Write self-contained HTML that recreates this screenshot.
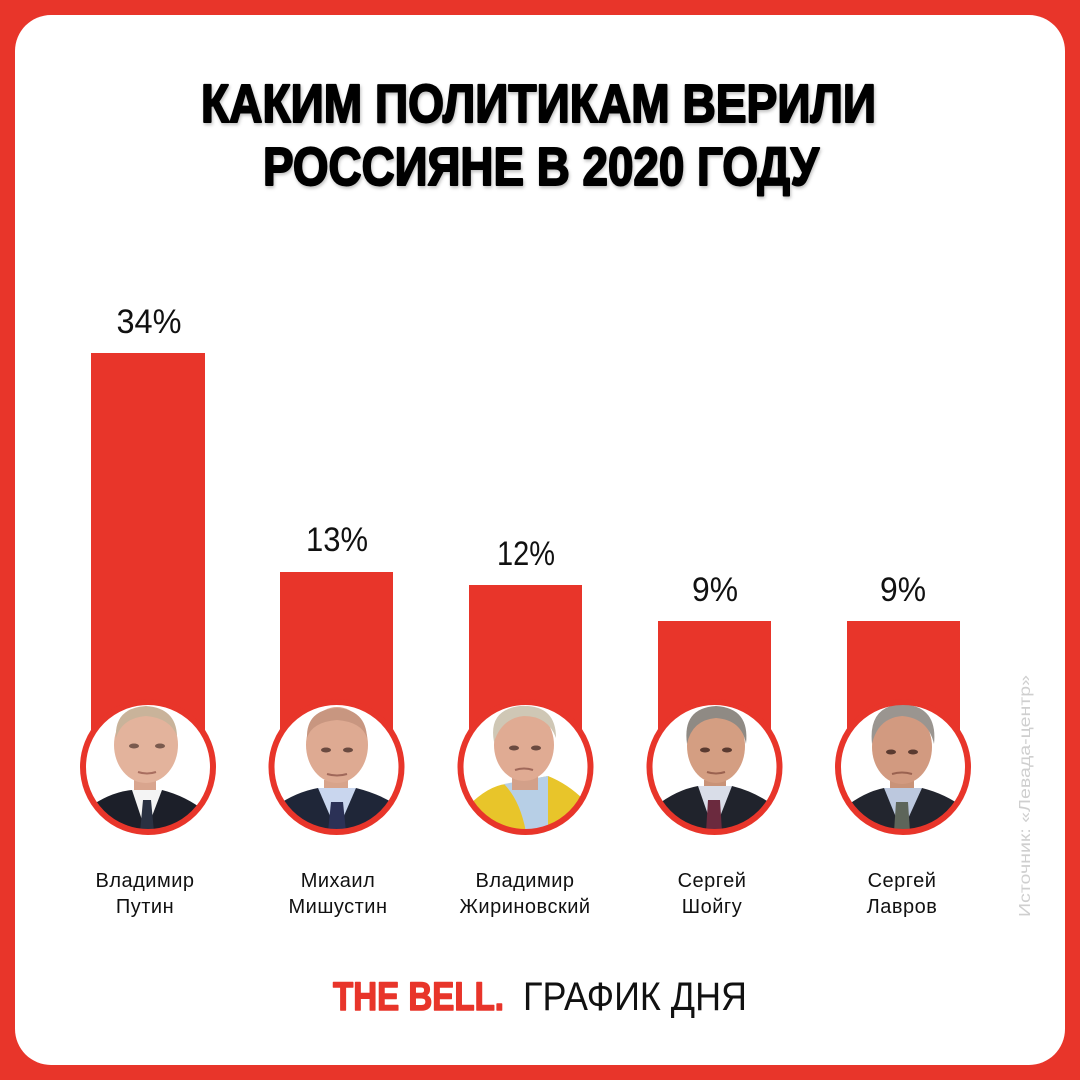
<!DOCTYPE html>
<html><head><meta charset="utf-8">
<style>
html,body{margin:0;padding:0;background:#E8352A;}
svg{display:block;}
</style></head>
<body>
<svg width="1080" height="1080" viewBox="0 0 1080 1080" xmlns="http://www.w3.org/2000/svg">
<defs>
<clipPath id="c1"><circle cx="148" cy="767" r="64"/></clipPath>
<clipPath id="c2"><circle cx="336.5" cy="767" r="64"/></clipPath>
<clipPath id="c3"><circle cx="525.5" cy="767" r="64"/></clipPath>
<clipPath id="c4"><circle cx="714.5" cy="767" r="64"/></clipPath>
<clipPath id="c5"><circle cx="903" cy="767" r="64"/></clipPath>
<filter id="sh" x="-5%" y="-20%" width="110%" height="140%"><feDropShadow dx="1" dy="2" stdDeviation="1.5" flood-color="#000" flood-opacity="0.25"/></filter>
</defs>
<rect x="0" y="0" width="1080" height="1080" fill="#E8352A"/>
<rect x="15" y="15" width="1050" height="1050" rx="36" ry="36" fill="#fff"/>

<g font-family="'Liberation Sans', sans-serif" font-weight="bold" font-size="54" fill="#000" stroke="#000" stroke-width="2" stroke-linejoin="round" filter="url(#sh)">
<text x="201" y="122" textLength="675" lengthAdjust="spacingAndGlyphs">КАКИМ ПОЛИТИКАМ ВЕРИЛИ</text>
<text x="263" y="185" textLength="556" lengthAdjust="spacingAndGlyphs">РОССИЯНЕ В 2020 ГОДУ</text>
</g>

<!-- bars -->
<g fill="#E8352A">
<rect x="91" y="353" width="114" height="414"/>
<rect x="280" y="572" width="113" height="195"/>
<rect x="469" y="585" width="113" height="182"/>
<rect x="658" y="621" width="113" height="146"/>
<rect x="847" y="621" width="113" height="146"/>
</g>

<g font-family="'Liberation Sans', sans-serif" font-size="34" fill="#111" text-anchor="middle">
<text x="149" y="333" textLength="65" lengthAdjust="spacingAndGlyphs">34%</text>
<text x="337" y="551" textLength="62" lengthAdjust="spacingAndGlyphs">13%</text>
<text x="526" y="565" textLength="58" lengthAdjust="spacingAndGlyphs">12%</text>
<text x="715" y="601" textLength="46" lengthAdjust="spacingAndGlyphs">9%</text>
<text x="903" y="601" textLength="46" lengthAdjust="spacingAndGlyphs">9%</text>
</g>

<!-- photo circles -->
<!-- 1 Putin -->
<circle cx="148" cy="767" r="65" fill="#fff"/>
<g clip-path="url(#c1)">
<rect x="134" y="780" width="22" height="30" fill="#d9a58e"/>
<path d="M78,835 L88,808 Q110,792 132,790 L162,790 Q186,796 206,812 L216,835 Z" fill="#1c1f29"/>
<path d="M132,790 L146,832 L162,790 Z" fill="#f4f4f4"/>
<path d="M143,800 L151,800 L154,832 L140,832 Z" fill="#2a3142"/>
<ellipse cx="146" cy="745" rx="32" ry="38" fill="#e3b39c"/>
<path d="M116,738 Q114,708 146,706 Q176,708 177,736 Q170,718 146,716 Q122,718 116,738 Z" fill="#c9b39a"/>
<ellipse cx="134" cy="746" rx="5" ry="2.5" fill="#7a5a4e"/>
<ellipse cx="160" cy="746" rx="5" ry="2.5" fill="#7a5a4e"/>
<path d="M138,772 Q147,775 156,772" stroke="#a86e60" stroke-width="2" fill="none"/>
</g>
<circle cx="148" cy="767" r="65" fill="none" stroke="#E8352A" stroke-width="6"/>

<!-- 2 Mishustin -->
<circle cx="336.5" cy="767" r="65" fill="#fff"/>
<g clip-path="url(#c2)">
<rect x="324" y="780" width="24" height="28" fill="#d8a48b"/>
<path d="M266,835 L276,806 Q296,792 318,788 L356,788 Q380,794 398,806 L408,835 Z" fill="#1f2638"/>
<path d="M318,788 L337,832 L356,788 Z" fill="#c9d6ee"/>
<path d="M331,802 L343,802 L346,832 L328,832 Z" fill="#2b3156"/>
<ellipse cx="337" cy="745" rx="31" ry="38" fill="#deaa92"/>
<path d="M307,738 Q306,710 337,708 Q366,710 367,738 Q362,722 337,720 Q312,722 307,738 Z" fill="#c89680"/>
<ellipse cx="326" cy="750" rx="5" ry="2.5" fill="#6a4a40"/>
<ellipse cx="348" cy="750" rx="5" ry="2.5" fill="#6a4a40"/>
<path d="M327,774 Q337,777 347,774" stroke="#a0685a" stroke-width="2" fill="none"/>
</g>
<circle cx="336.5" cy="767" r="65" fill="none" stroke="#E8352A" stroke-width="6"/>

<!-- 3 Zhirinovsky -->
<circle cx="525.5" cy="767" r="65" fill="#fff"/>
<g clip-path="url(#c3)">
<path d="M455,835 L468,806 Q488,786 506,784 L548,776 Q568,784 584,800 L596,835 Z" fill="#e8c52a"/>
<path d="M504,784 Q520,800 526,832 L548,832 Q548,800 548,776 Z" fill="#b7cfe6"/>
<rect x="512" y="772" width="26" height="18" fill="#d3a089"/>
<ellipse cx="524" cy="745" rx="30" ry="36" fill="#e0ab93"/>
<path d="M494,742 Q488,710 520,706 Q556,704 556,738 Q548,716 524,716 Q502,718 494,742 Z" fill="#cfc7b5"/>
<ellipse cx="514" cy="748" rx="5" ry="2.5" fill="#6a4a40"/>
<ellipse cx="536" cy="748" rx="5" ry="2.5" fill="#6a4a40"/>
<path d="M515,770 Q524,767 533,770" stroke="#a0685a" stroke-width="2" fill="none"/>
</g>
<circle cx="525.5" cy="767" r="65" fill="none" stroke="#E8352A" stroke-width="6"/>

<!-- 4 Shoigu -->
<circle cx="714.5" cy="767" r="65" fill="#fff"/>
<g clip-path="url(#c4)">
<rect x="704" y="780" width="22" height="26" fill="#c99378"/>
<path d="M644,835 L656,806 Q676,790 698,786 L732,786 Q756,792 774,806 L786,835 Z" fill="#20232c"/>
<path d="M698,786 L714,832 L732,786 Z" fill="#d9dde8"/>
<path d="M708,800 L720,800 L722,832 L706,832 Z" fill="#6b2a3e"/>
<ellipse cx="716" cy="746" rx="29" ry="37" fill="#d49e82"/>
<path d="M687,744 Q682,708 716,706 Q750,708 746,744 Q742,720 716,718 Q692,720 687,744 Z" fill="#8f8a84"/>
<ellipse cx="705" cy="750" rx="5" ry="2.5" fill="#5a3a30"/>
<ellipse cx="727" cy="750" rx="5" ry="2.5" fill="#5a3a30"/>
<path d="M707,772 Q716,775 725,772" stroke="#9a6250" stroke-width="2" fill="none"/>
</g>
<circle cx="714.5" cy="767" r="65" fill="none" stroke="#E8352A" stroke-width="6"/>

<!-- 5 Lavrov -->
<circle cx="903" cy="767" r="65" fill="#fff"/>
<g clip-path="url(#c5)">
<rect x="890" y="780" width="24" height="26" fill="#c99378"/>
<path d="M832,835 L844,808 Q864,792 884,788 L922,788 Q946,794 964,808 L974,835 Z" fill="#22252e"/>
<path d="M884,788 L902,832 L922,788 Z" fill="#bcc8de"/>
<path d="M896,802 L908,802 L910,832 L894,832 Z" fill="#5d655a"/>
<ellipse cx="902" cy="747" rx="30" ry="37" fill="#d29a80"/>
<path d="M872,744 Q868,706 902,704 Q938,706 934,744 Q928,718 902,716 Q878,718 872,744 Z" fill="#9a9590"/>
<ellipse cx="891" cy="752" rx="5" ry="2.5" fill="#5a3a30"/>
<ellipse cx="913" cy="752" rx="5" ry="2.5" fill="#5a3a30"/>
<path d="M892,774 Q902,771 912,774" stroke="#9a6250" stroke-width="2" fill="none"/>
</g>
<circle cx="903" cy="767" r="65" fill="none" stroke="#E8352A" stroke-width="6"/>

<!-- names -->
<g font-family="'Liberation Sans', sans-serif" font-size="20" fill="#111" text-anchor="middle" letter-spacing="0.5">
<text x="145" y="887">Владимир</text>
<text x="145" y="913">Путин</text>
<text x="338" y="887">Михаил</text>
<text x="338" y="913">Мишустин</text>
<text x="525" y="887">Владимир</text>
<text x="525" y="913">Жириновский</text>
<text x="712" y="887">Сергей</text>
<text x="712" y="913">Шойгу</text>
<text x="902" y="887">Сергей</text>
<text x="902" y="913">Лавров</text>
</g>

<!-- source -->
<text transform="translate(1030,917) rotate(-90)" x="0" y="0" font-family="'Liberation Sans', sans-serif" font-size="16" fill="#cfcfcf" textLength="242" lengthAdjust="spacingAndGlyphs">Источник: «Левада-центр»</text>

<!-- footer -->
<text x="333" y="1010" font-family="'Liberation Sans', sans-serif" font-weight="bold" font-size="40" fill="#E8352A" stroke="#E8352A" stroke-width="1.5" stroke-linejoin="round" textLength="171" lengthAdjust="spacingAndGlyphs">THE BELL.</text>
<text x="523" y="1010" font-family="'Liberation Sans', sans-serif" font-size="40" fill="#111" textLength="224" lengthAdjust="spacingAndGlyphs">ГРАФИК ДНЯ</text>
</svg>
</body></html>
